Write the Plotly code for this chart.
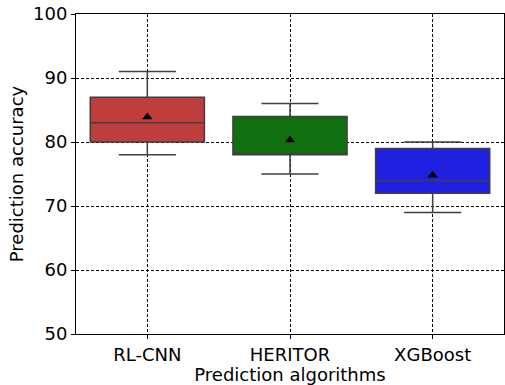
import plotly.graph_objects as go

algorithms = ["RL-CNN", "HERITOR", "XGBoost"]
lower_whisker = [78, 75, 69]
q1 = [80, 78, 72]
median = [83, 78, 74]
q3 = [87, 84, 79]
upper_whisker = [91, 86, 80]
means = [83.9, 80.3, 74.8]
colors = ["#c03d3d", "#107010", "#2020e0"]
y_ticks = [50, 60, 70, 80, 90, 100]

FONT = "DejaVu Sans"
fig = go.Figure()
for i, name in enumerate(algorithms):
    fig.add_trace(go.Box(
        x=[name], q1=[q1[i]], median=[median[i]], q3=[q3[i]],
        lowerfence=[lower_whisker[i]], upperfence=[upper_whisker[i]],
        fillcolor=colors[i], line=dict(color="#3f3f3f", width=1.5),
        width=0.8, whiskerwidth=0.5, boxpoints=False, showlegend=False,
        hoverinfo="skip",
    ))
fig.add_trace(go.Scatter(
    x=algorithms, y=means, mode="markers",
    marker=dict(symbol="triangle-up", size=9, color="black"),
    showlegend=False,
))

fnt = dict(family=FONT, size=18, color="black")
fig.update_layout(
    width=505, height=385,
    margin=dict(l=76, r=1, t=14, b=51),
    paper_bgcolor="white", plot_bgcolor="white",
    font=fnt,
)
fig.update_xaxes(
    type="category", range=[-0.5, 2.5],
    showgrid=True, gridcolor="black", griddash="3px,2px", gridwidth=1,
    showline=True, linecolor="black", linewidth=1, mirror=True,
    ticks="outside", ticklen=4, tickcolor="black",
    title=dict(text="Prediction algorithms", standoff=0, font=fnt),
    tickfont=fnt, layer="above traces",
)
fig.update_yaxes(
    range=[50, 100], tickvals=y_ticks,
    showgrid=True, gridcolor="black", griddash="3px,2px", gridwidth=1,
    showline=True, linecolor="black", linewidth=1, mirror=True,
    ticks="outside", ticklen=4, tickcolor="black",
    title=dict(text="Prediction accuracy", standoff=4, font=fnt),
    tickfont=fnt, zeroline=False, layer="above traces",
)
fig.write_html("out.html")
